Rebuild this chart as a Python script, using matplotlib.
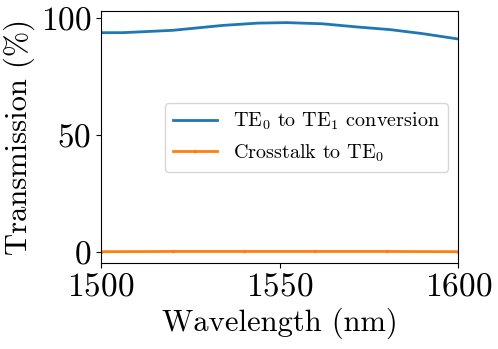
import numpy as np
import matplotlib
matplotlib.use('Agg')
from matplotlib import pyplot as plt

wavelength = [1500, 1506, 1520, 1534, 1544, 1552, 1562, 1572, 1581, 1590, 1600]
conversion = [93.9, 93.9, 94.9, 97.0, 98.0, 98.2, 97.7, 96.3, 95.2, 93.5, 91.2]
crosstalk_wl = [1500, 1520, 1540, 1560, 1580, 1600]
crosstalk = [0.3, 0.4, 0.4, 0.4, 0.4, 0.3]

plt.rcParams['font.family'] = 'serif'
plt.rcParams['font.serif'] = ['cmr10']
plt.rcParams['mathtext.fontset'] = 'cm'
plt.rcParams['axes.formatter.use_mathtext'] = True

fig = plt.figure(figsize=(4.98, 3.49), dpi=100)
ax = fig.add_subplot(1, 1, 1)

ax.plot(wavelength, conversion, color='#1f77b4', linewidth=2, label=r'TE$_0$ to TE$_1$ conversion')
ax.plot(crosstalk_wl, crosstalk, color='#ff7f0e', linewidth=2, marker='.', markersize=3,
        label=r'Crosstalk to TE$_0$')

ax.set_xlim(1500, 1600)
ax.set_xticks([1500, 1550, 1600])
ax.set_yticks([0, 50, 100])
ax.tick_params(labelsize=24)
ax.set_xlabel('Wavelength (nm)', size=22)
ax.set_ylabel('Transmission (%)', size=22)
ax.legend(fontsize=14.5, loc='center right', handlelength=2.2)

fig.subplots_adjust(left=0.203, right=0.92, top=0.968, bottom=0.246)
fig.savefig('out.png', dpi=100)
